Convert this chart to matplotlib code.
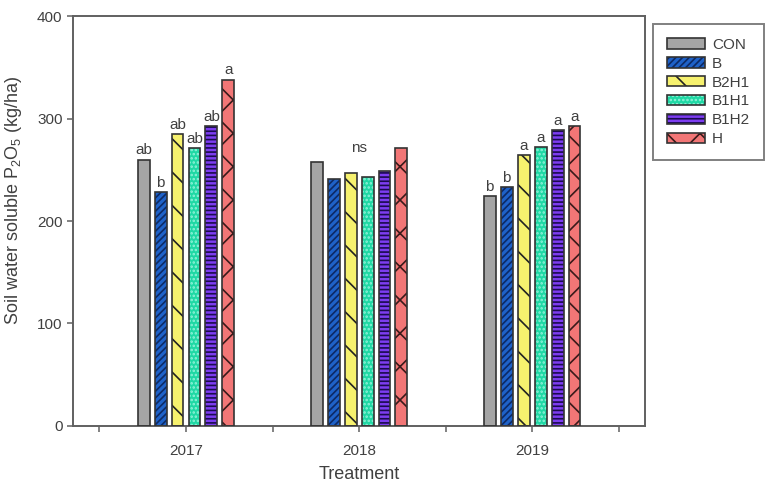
import matplotlib
matplotlib.use("Agg")
import matplotlib.pyplot as plt
from matplotlib.patches import Patch
from matplotlib.legend_handler import HandlerTuple
import numpy as np

plt.rcParams['font.family'] = ['Liberation Sans', 'DejaVu Sans']
plt.rcParams['mathtext.fontset'] = 'custom'
plt.rcParams['mathtext.rm'] = 'Liberation Sans'
plt.rcParams['mathtext.it'] = 'Liberation Sans:italic'
plt.rcParams['hatch.linewidth'] = 1.2

years = ['2017', '2018', '2019']
treatments = ['CON', 'B', 'B2H1', 'B1H1', 'B1H2', 'H']
con = [260, 258, 224]
b = [228, 241, 233]
b2h1 = [285, 247, 264]
b1h1 = [271, 243, 272]
b1h2 = [293, 249, 289]
h = [338, 271, 293]
letters_2017 = ['ab', 'b', 'ab', 'ab', 'ab', 'a']
letters_2019 = ['b', 'b', 'a', 'a', 'a', 'a']
label_2018 = 'ns'

series = [con, b, b2h1, b1h1, b1h2, h]
facecolors = ['#a5a5a5', '#1f62c8', '#f6f16e', '#1fd8a4', '#7d3df0', '#f27676']
hatches = [None, '/////', '\\', '....', '----', 'x']
hatchcolors = ['#a5a5a5', '#0c2a66', '#222222', '#8ff2d8', '#1a0a50', '#3a1a1a']

text_col = '#404040'
spine_col = '#606060'

fig = plt.figure(figsize=(7.7, 4.86), dpi=100)
ax = fig.add_axes([0.0948, 0.1235, 0.743, 0.8435])

x = np.arange(len(years))
pitch = 0.098
width = 0.069
n = len(treatments)
handles = []
for i, (vals, fc, ht, hc) in enumerate(zip(series, facecolors, hatches, hatchcolors)):
    pos = x + (i - (n - 1) / 2) * pitch
    ax.bar(pos, vals, width, color=fc, hatch=ht, edgecolor=hc, linewidth=0, zorder=2)
    ax.bar(pos, vals, width, facecolor='none', edgecolor='#333333', linewidth=1.2, zorder=3)
    hp = Patch(facecolor=fc, hatch=ht, edgecolor=hc, linewidth=0)
    op = Patch(facecolor='none', edgecolor='#333333', linewidth=1.2)
    handles.append((hp, op))

# significance letters
for i in range(n):
    p0 = x[0] + (i - (n - 1) / 2) * pitch
    p2 = x[2] + (i - (n - 1) / 2) * pitch
    ax.annotate(letters_2017[i], (p0, series[i][0]), xytext=(0, 1.5), textcoords='offset points',
                ha='center', va='bottom', fontsize=11, color=text_col)
    ax.annotate(letters_2019[i], (p2, series[i][2]), xytext=(0, 1.5), textcoords='offset points',
                ha='center', va='bottom', fontsize=11, color=text_col)
ax.annotate(label_2018, (x[1], max(b2h1[1], b1h1[1])), xytext=(0, 13), textcoords='offset points',
            ha='center', va='bottom', fontsize=11, color=text_col)

ax.set_xlim(-0.653, 2.653)
ax.set_ylim(0, 400)
ax.set_yticks([0, 100, 200, 300, 400])
ax.set_xticks(x)
ax.set_xticklabels(years)
ax.set_xticks([-0.5, 0.5, 1.5, 2.5], minor=True)
ax.tick_params(axis='both', which='both', direction='out', length=4, width=1.1,
               color=spine_col, labelcolor=text_col, labelsize=11)
ax.tick_params(axis='x', which='major', pad=9)
for sp in ax.spines.values():
    sp.set_color(spine_col)
    sp.set_linewidth(1.4)

ax.set_xlabel('Treatment', fontsize=13, color=text_col, labelpad=6)
ax.set_ylabel(r'Soil water soluble P$\mathregular{_2}$O$\mathregular{_5}$ (kg/ha)',
              fontsize=13, color=text_col)
ax.yaxis.set_label_coords(-0.085, 0.55)

leg = fig.legend(handles, treatments, handler_map={tuple: HandlerTuple(ndivide=1, pad=0)},
                 loc='upper left', bbox_to_anchor=(0.848, 0.9506), borderaxespad=0,
                 fontsize=11, handlelength=2.5, handleheight=0.68, handletextpad=0.45,
                 labelspacing=0.32, borderpad=0.9, fancybox=False, frameon=True)
leg.get_frame().set_edgecolor(spine_col)
leg.get_frame().set_linewidth(1.4)
for t in leg.get_texts():
    t.set_color(text_col)

fig.savefig('out.png', dpi=100)
